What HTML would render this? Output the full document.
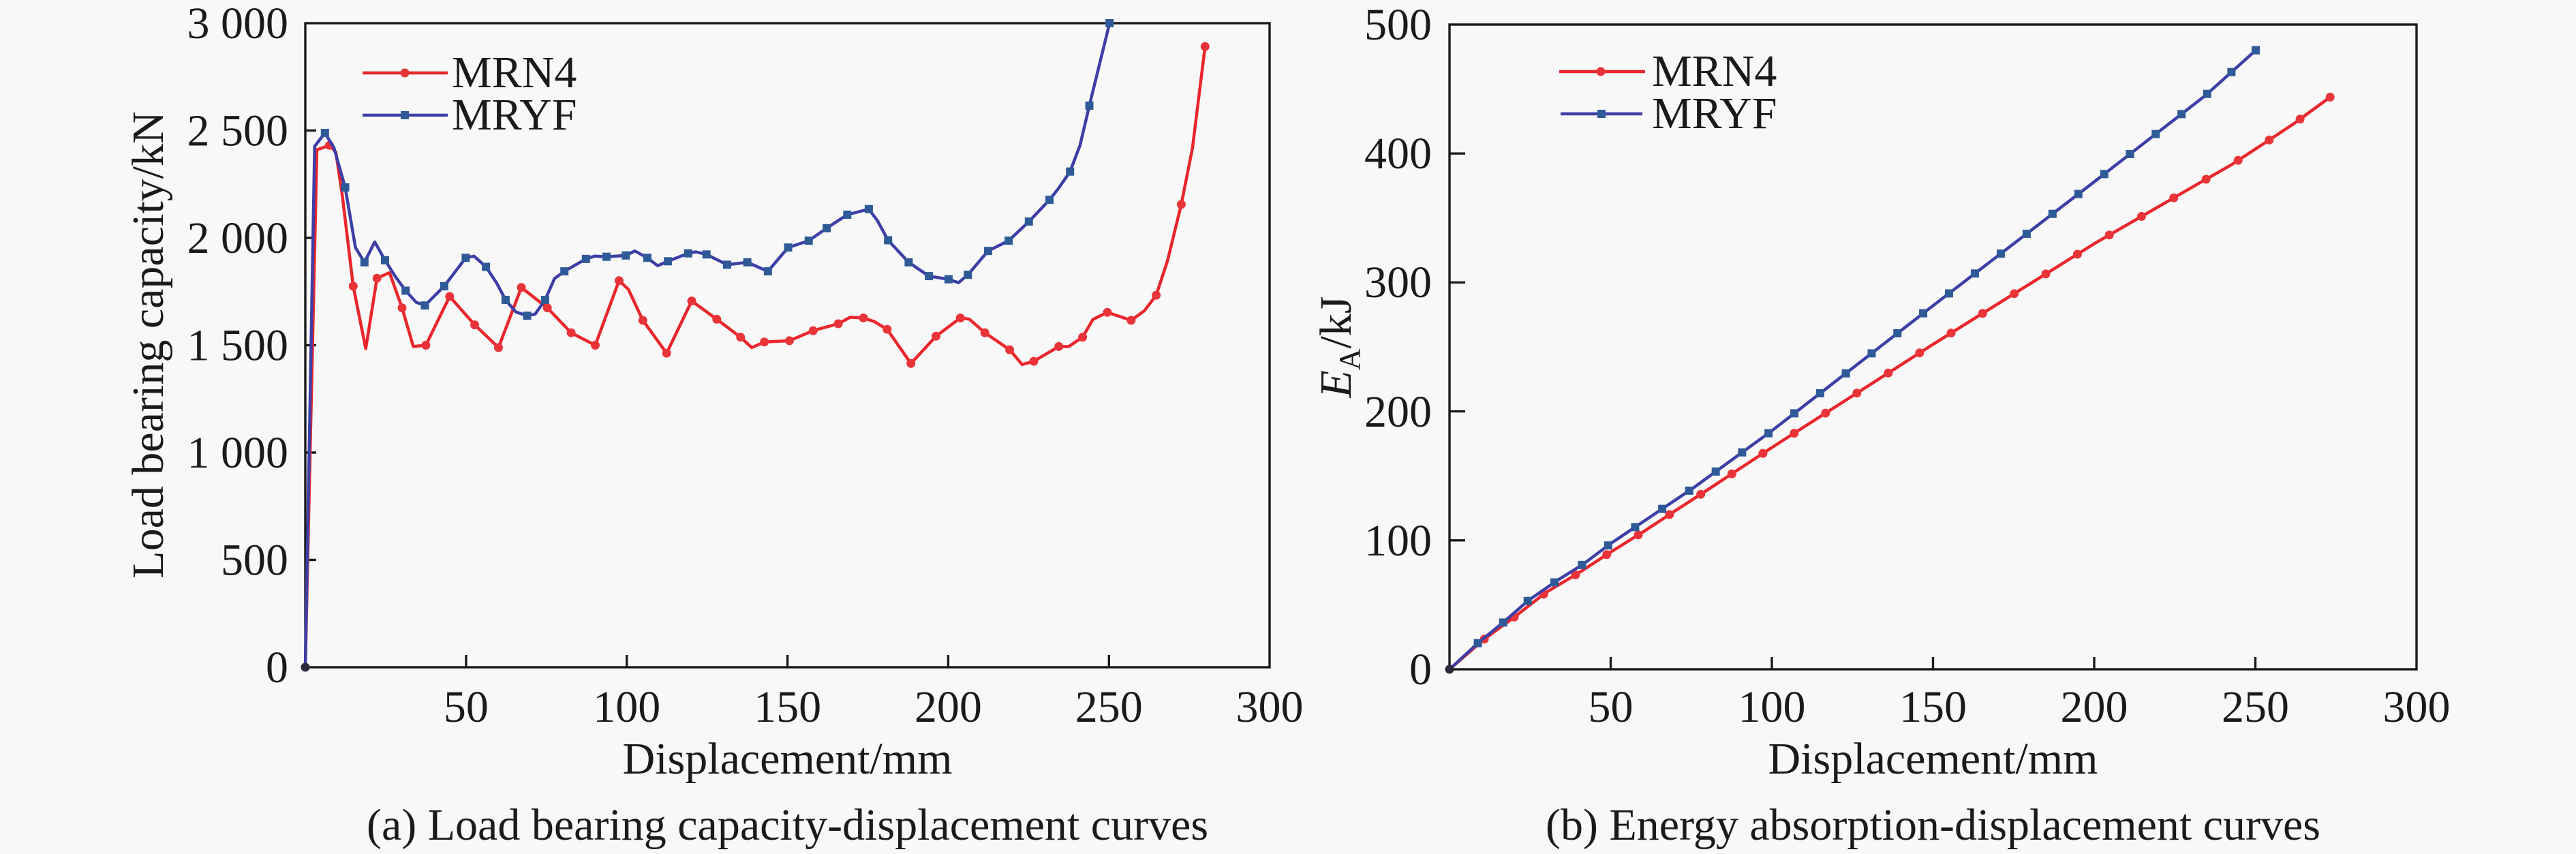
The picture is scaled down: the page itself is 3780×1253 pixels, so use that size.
<!DOCTYPE html>
<html>
<head>
<meta charset="utf-8">
<style>
  html,body{margin:0;padding:0;background:#f8f8f8;}
  svg{display:block;}
  text{font-family:"Liberation Serif","Times New Roman",serif;fill:#1a1a1a;}
</style>
</head>
<body>
<svg width="3780" height="1253" viewBox="0 0 3780 1253" xmlns="http://www.w3.org/2000/svg">
  <rect x="0" y="0" width="3780" height="1253" fill="#f8f8f8"/>

  <!-- ================= CHART A ================= -->
  <g font-size="66">
    <g text-anchor="end">
      <text x="423" y="1001">0</text>
      <text x="423" y="843.5">500</text>
      <text x="423" y="686">1 000</text>
      <text x="423" y="528.5">1 500</text>
      <text x="423" y="371">2 000</text>
      <text x="423" y="213.5">2 500</text>
      <text x="423" y="56">3 000</text>
    </g>
    <g text-anchor="middle">
      <text x="683.9" y="1059">50</text>
      <text x="919.7" y="1059">100</text>
      <text x="1155.6" y="1059">150</text>
      <text x="1391.4" y="1059">200</text>
      <text x="1627.3" y="1059">250</text>
      <text x="1863" y="1059">300</text>
      <text x="1155.5" y="1135">Displacement/mm</text>
      <text x="1155.5" y="1232">(a) Load bearing capacity-displacement curves</text>
    </g>
    <text transform="translate(239,506) rotate(-90)" text-anchor="middle">Load bearing capacity/kN</text>
  </g>

  <rect x="448" y="34" width="1415" height="945" fill="none" stroke="#1a1a1a" stroke-width="3.4"/>
  <g stroke="#1a1a1a" stroke-width="3.4">
    <line x1="448" y1="821.5" x2="464" y2="821.5"/>
    <line x1="448" y1="664" x2="464" y2="664"/>
    <line x1="448" y1="506.5" x2="464" y2="506.5"/>
    <line x1="448" y1="349" x2="464" y2="349"/>
    <line x1="448" y1="191.5" x2="464" y2="191.5"/>
    <line x1="683.9" y1="979" x2="683.9" y2="961"/>
    <line x1="919.7" y1="979" x2="919.7" y2="961"/>
    <line x1="1155.6" y1="979" x2="1155.6" y2="961"/>
    <line x1="1391.4" y1="979" x2="1391.4" y2="961"/>
    <line x1="1627.3" y1="979" x2="1627.3" y2="961"/>
  </g>

  <!-- MRN4 curve (a) -->
  <polyline fill="none" stroke="#e8262c" stroke-width="4.5" stroke-linejoin="round" points="
448,979 465.0,219.8 483.4,213.2 492.8,223.0 502.2,286.0 518.3,419.9 536.7,511.5 553.2,408.2 571.6,400.0 590.0,451.7 606.5,508.4 624.9,506.5 659.8,435.0 696.6,476.6 731.5,510.0 765.0,421.8 803.2,451.7 838.1,488.2 873.5,506.5 908.4,411.7 922.1,424.6 943.3,470.0 978.2,518.2 1015.0,441.6 1051.8,468.4 1086.7,494.8 1103.2,510.0 1121.6,501.8 1158.4,499.9 1193.3,485.1 1230.1,475.0 1247.5,465.5 1266.9,466.5 1282.9,471.8 1301.8,483.2 1336.7,533.3 1373.5,493.3 1409.3,466.5 1422.1,468.1 1445.2,488.2 1481.5,513.1 1499.9,534.8 1516.9,530.1 1553.7,508.4 1568.3,508.4 1588.6,494.8 1603.7,468.7 1624.9,458.3 1659.8,470.0 1679.1,456.1 1696.6,433.1 1713.1,383.0 1733.4,299.9 1749.9,216.7 1768.3,68.3"/>
  <g fill="#e83438">
    <circle cx="483.4" cy="213.2" r="6.5"/><circle cx="518.3" cy="419.9" r="6.5"/><circle cx="553.2" cy="408.2" r="6.5"/><circle cx="590.0" cy="451.7" r="6.5"/><circle cx="624.9" cy="506.5" r="6.5"/><circle cx="659.8" cy="435.0" r="6.5"/><circle cx="696.6" cy="476.6" r="6.5"/><circle cx="731.5" cy="510.0" r="6.5"/><circle cx="765.0" cy="421.8" r="6.5"/><circle cx="803.2" cy="451.7" r="6.5"/><circle cx="838.1" cy="488.2" r="6.5"/><circle cx="873.5" cy="506.5" r="6.5"/><circle cx="908.4" cy="411.7" r="6.5"/><circle cx="943.3" cy="470.0" r="6.5"/><circle cx="978.2" cy="518.2" r="6.5"/><circle cx="1015.0" cy="441.6" r="6.5"/><circle cx="1051.8" cy="468.4" r="6.5"/><circle cx="1086.7" cy="494.8" r="6.5"/><circle cx="1121.6" cy="501.8" r="6.5"/><circle cx="1158.4" cy="499.9" r="6.5"/><circle cx="1193.3" cy="485.1" r="6.5"/><circle cx="1230.1" cy="475.0" r="6.5"/><circle cx="1266.9" cy="466.5" r="6.5"/><circle cx="1301.8" cy="483.2" r="6.5"/><circle cx="1336.7" cy="533.3" r="6.5"/><circle cx="1373.5" cy="493.3" r="6.5"/><circle cx="1409.3" cy="466.5" r="6.5"/><circle cx="1445.2" cy="488.2" r="6.5"/><circle cx="1481.5" cy="513.1" r="6.5"/><circle cx="1516.9" cy="530.1" r="6.5"/><circle cx="1553.7" cy="508.4" r="6.5"/><circle cx="1588.6" cy="494.8" r="6.5"/><circle cx="1624.9" cy="458.3" r="6.5"/><circle cx="1659.8" cy="470.0" r="6.5"/><circle cx="1696.6" cy="433.1" r="6.5"/><circle cx="1733.4" cy="299.9" r="6.5"/><circle cx="1768.3" cy="68.3" r="6.5"/>
  </g>

  <!-- MRYF curve (a) -->
  <polyline fill="none" stroke="#3d3fa6" stroke-width="4.5" stroke-linejoin="round" points="
448,979 461.7,214.8 476.8,195.0 490.0,216.7 506.5,275.0 521.6,363.2 534.8,384.9 549.9,355.0 565.0,381.8 580.1,405.7 595.2,426.5 610.7,443.5 623.5,448.2 651.8,419.9 683.4,378.3 695.6,375.8 713.1,391.5 728.7,415.1 741.9,440.0 757.0,457.7 773.5,463.3 785.3,460.8 799.9,440.0 813.6,408.8 828.2,398.1 859.8,379.9 872.5,375.8 890.0,376.7 918.3,374.8 931.5,368.2 949.9,378.3 965.0,389.9 980.1,383.3 1009.8,371.7 1021.1,369.5 1036.7,373.3 1066.9,388.4 1096.6,384.9 1126.8,398.1 1156.5,363.2 1186.7,353.1 1213.1,334.8 1243.3,315.0 1274.9,306.8 1287.6,323.8 1303.2,352.5 1333.4,384.9 1363.1,405.1 1391.9,409.8 1406.5,414.8 1420.2,403.2 1449.9,368.2 1480.1,353.1 1509.8,325.1 1540.0,293.2 1553.2,276.5 1570.2,251.7 1584.8,213.2 1598.5,155.0 1616.9,80.0 1628.2,34"/>
  <g fill="#2f5a98">
    <rect x="470.8" y="189.0" width="12" height="12"/><rect x="500.5" y="269.0" width="12" height="12"/><rect x="528.8" y="378.9" width="12" height="12"/><rect x="559.0" y="375.8" width="12" height="12"/><rect x="589.2" y="420.5" width="12" height="12"/><rect x="617.5" y="442.2" width="12" height="12"/><rect x="645.8" y="413.9" width="12" height="12"/><rect x="677.4" y="372.3" width="12" height="12"/><rect x="707.1" y="385.5" width="12" height="12"/><rect x="735.9" y="434.0" width="12" height="12"/><rect x="767.5" y="457.3" width="12" height="12"/><rect x="793.9" y="434.0" width="12" height="12"/><rect x="822.2" y="392.1" width="12" height="12"/><rect x="853.8" y="373.9" width="12" height="12"/><rect x="884.0" y="370.7" width="12" height="12"/><rect x="912.3" y="368.8" width="12" height="12"/><rect x="943.9" y="372.3" width="12" height="12"/><rect x="974.1" y="377.3" width="12" height="12"/><rect x="1003.8" y="365.7" width="12" height="12"/><rect x="1030.7" y="367.3" width="12" height="12"/><rect x="1060.9" y="382.4" width="12" height="12"/><rect x="1090.6" y="378.9" width="12" height="12"/><rect x="1120.8" y="392.1" width="12" height="12"/><rect x="1150.5" y="357.2" width="12" height="12"/><rect x="1180.7" y="347.1" width="12" height="12"/><rect x="1207.1" y="328.8" width="12" height="12"/><rect x="1237.3" y="309.0" width="12" height="12"/><rect x="1268.9" y="300.8" width="12" height="12"/><rect x="1297.2" y="346.5" width="12" height="12"/><rect x="1327.4" y="378.9" width="12" height="12"/><rect x="1357.1" y="399.1" width="12" height="12"/><rect x="1385.9" y="403.8" width="12" height="12"/><rect x="1414.2" y="397.2" width="12" height="12"/><rect x="1443.9" y="362.2" width="12" height="12"/><rect x="1474.1" y="347.1" width="12" height="12"/><rect x="1503.8" y="319.1" width="12" height="12"/><rect x="1534.0" y="287.2" width="12" height="12"/><rect x="1564.2" y="245.7" width="12" height="12"/><rect x="1592.5" y="149.0" width="12" height="12"/><rect x="1622.2" y="28" width="12" height="12"/>
  </g>
  <circle cx="448" cy="979" r="6.5" fill="#2a2a3a"/>

  <!-- legend a -->
  <line x1="532" y1="107" x2="657" y2="107" stroke="#e8262c" stroke-width="4.5"/>
  <circle cx="594" cy="107" r="6.5" fill="#e83438"/>
  <line x1="532" y1="169" x2="657" y2="169" stroke="#3d3fa6" stroke-width="4.5"/>
  <rect x="588" y="163" width="12" height="12" fill="#2f5a98"/>
  <text x="663" y="128" font-size="66">MRN4</text>
  <text x="663" y="190" font-size="66">MRYF</text>

  <!-- ================= CHART B ================= -->
  <g font-size="66">
    <g text-anchor="end">
      <text x="2101" y="1004">0</text>
      <text x="2101" y="815">100</text>
      <text x="2101" y="626">200</text>
      <text x="2101" y="436">300</text>
      <text x="2101" y="247">400</text>
      <text x="2101" y="58">500</text>
    </g>
    <g text-anchor="middle">
      <text x="2363.5" y="1059">50</text>
      <text x="2600" y="1059">100</text>
      <text x="2836.5" y="1059">150</text>
      <text x="3073" y="1059">200</text>
      <text x="3309.5" y="1059">250</text>
      <text x="3546" y="1059">300</text>
      <text x="2836.5" y="1135">Displacement/mm</text>
      <text x="2836.5" y="1232">(b) Energy absorption-displacement curves</text>
    </g>
    <text transform="translate(1982,509) rotate(-90)" text-anchor="middle"><tspan font-style="italic">E</tspan><tspan font-size="44" dy="13">A</tspan><tspan dy="-13">/kJ</tspan></text>
  </g>

  <rect x="2127" y="36" width="1419" height="946" fill="none" stroke="#1a1a1a" stroke-width="3.4"/>
  <g stroke="#1a1a1a" stroke-width="3.4">
    <line x1="2127" y1="792.8" x2="2150" y2="792.8"/>
    <line x1="2127" y1="603.6" x2="2150" y2="603.6"/>
    <line x1="2127" y1="414.4" x2="2150" y2="414.4"/>
    <line x1="2127" y1="225.2" x2="2150" y2="225.2"/>
    <line x1="2363.5" y1="982" x2="2363.5" y2="964"/>
    <line x1="2600" y1="982" x2="2600" y2="964"/>
    <line x1="2836.5" y1="982" x2="2836.5" y2="964"/>
    <line x1="3073" y1="982" x2="3073" y2="964"/>
    <line x1="3309.5" y1="982" x2="3309.5" y2="964"/>
  </g>

  <!-- MRN4 (b) -->
  <polyline fill="none" stroke="#e8262c" stroke-width="4.5" stroke-linejoin="round" points="2127,982 2178.1,937.7 2219.2,907.6 2268.0,869.6 2316.7,840.5 2361.6,811.2 2410.3,780.9 2459.0,748.9 2504.0,719.8 2600,656.6 2836.5,505.2 3073,357.6 3223.9,270.6 3273.6,242.2 3322.7,210.1 3367.2,180.6 3419.2,142.5"/>
  <path d="M2178.1,937.7 L2219.2,907.6 L2268.0,869.6 L2316.7,840.5 L2361.6,811.2 L2410.3,780.9 L2459.0,748.9 L2504.0,719.8 L2600,656.6 L2836.5,505.2 L3073,357.6 L3223.9,270.6 L3273.6,242.2 L3322.7,210.1 L3367.2,180.6 L3419.2,142.5" pathLength="27" fill="none" stroke="#e83438" stroke-width="13" stroke-linecap="round" stroke-dasharray="0 1"/>
  <circle cx="3419.2" cy="142.5" r="6.5" fill="#e83438"/>

  <!-- MRYF (b) -->
  <polyline fill="none" stroke="#3d3fa6" stroke-width="4.5" stroke-linejoin="round" points="2127,982 2168.6,943.6 2205.5,913.5 2242.4,881.2 2285.5,851.3 2322.8,828.0 2363.5,797.5 2484.6,716.0 2600,632 2836.5,448.5 3073,266.8 3236.2,140.1 3310.0,73.8"/>
  <path d="M2168.6,943.6 L2205.5,913.5 L2242.4,881.2 L2285.5,851.3 L2322.8,828.0 L2363.5,797.5 L2484.6,716.0 L2600,632 L2836.5,448.5 L3073,266.8 L3236.2,140.1 L3310.0,73.8" pathLength="30" fill="none" stroke="#2f5a98" stroke-width="12" stroke-linecap="square" stroke-dasharray="0 1"/>
  <rect x="3304" y="67.8" width="12" height="12" fill="#2f5a98"/>
  <circle cx="2127" cy="982" r="6.5" fill="#2a2a3a"/>

  <!-- legend b -->
  <line x1="2288" y1="105" x2="2414" y2="105" stroke="#e8262c" stroke-width="4.5"/>
  <circle cx="2349" cy="105" r="6.5" fill="#e83438"/>
  <line x1="2290" y1="167" x2="2410" y2="167" stroke="#3d3fa6" stroke-width="4.5"/>
  <rect x="2344" y="161" width="12" height="12" fill="#2f5a98"/>
  <text x="2424" y="126" font-size="66">MRN4</text>
  <text x="2424" y="188" font-size="66">MRYF</text>
</svg>
</body>
</html>
